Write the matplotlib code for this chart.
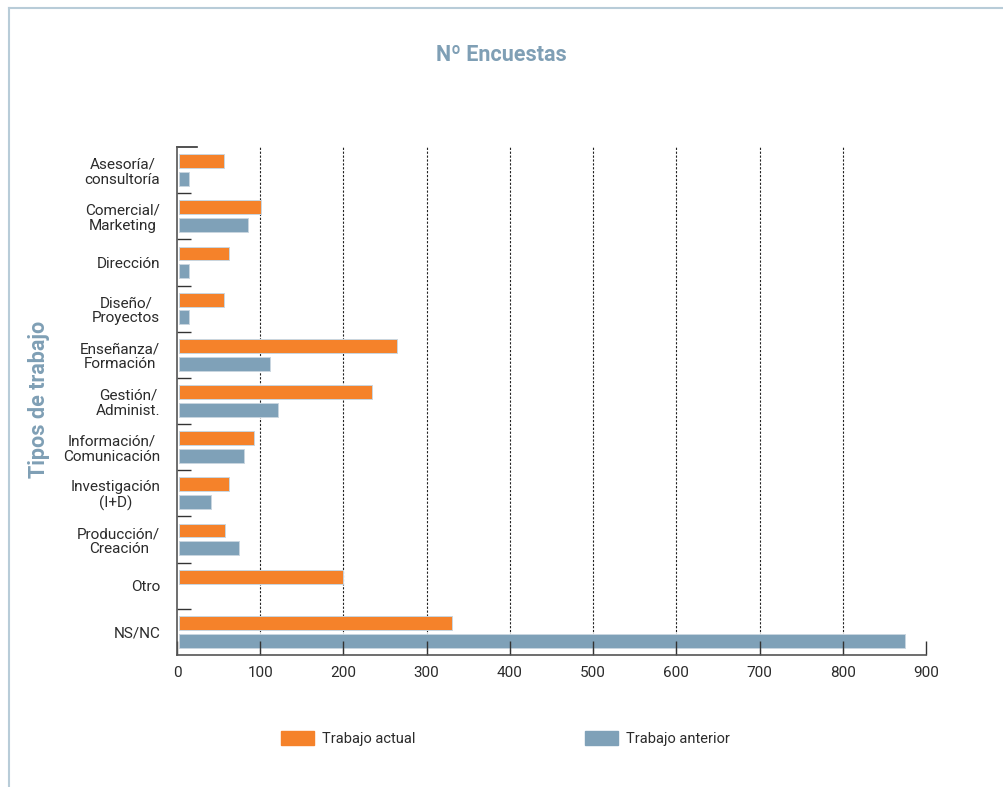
import numpy as np
import matplotlib.pyplot as plt
from matplotlib.patches import Patch
from matplotlib.lines import Line2D

plt.rcParams['font.family'] = ['Roboto', 'DejaVu Sans']

# Datos
categorias = ["Asesoría/\nconsultoría", "Comercial/\nMarketing", "Dirección",
              "Diseño/\nProyectos", "Enseñanza/\nFormación", "Gestión/\nAdminist.",
              "Información/\nComunicación", "Investigación\n(I+D)",
              "Producción/\nCreación", "Otro", "NS/NC"]
trabajo_actual = np.array([54, 99, 61, 55, 262, 232, 91, 61, 56, 197, 329])
trabajo_anterior = np.array([12, 83, 13, 13, 110, 119, 79, 39, 73, 0, 873])
ticks_x = [0, 100, 200, 300, 400, 500, 600, 700, 800, 900]

NARANJA = '#f5822a'
AZUL = '#7fa1b8'
TITULO = '#7f9fb5'
TEXTO = '#2b2b2b'

fig = plt.figure(figsize=(10.04, 7.87), dpi=100)
ax = fig.add_axes([0.1763, 0.1677, 0.746, 0.6455])

y = np.arange(len(categorias))
alto = 0.30
m1 = trabajo_actual > 0
m2 = trabajo_anterior > 0
ax.barh(y[m1] - 0.195, trabajo_actual[m1], height=alto, color=NARANJA,
        edgecolor='#c9d6e0', linewidth=0.7, left=2)
ax.barh(y[m2] + 0.19, trabajo_anterior[m2], height=alto, color=AZUL,
        edgecolor='#c9d6e0', linewidth=0.7, left=2)

ax.set_xlim(0, 900)
ax.set_ylim(len(categorias) - 0.5, -0.5)

# rejilla punteada
for v in ticks_x[1:-1]:
    ax.axvline(v, color='#222222', linestyle=(0, (2, 1.5)), linewidth=0.8, zorder=0)

ax.set_xticks(ticks_x)
ax.tick_params(axis='x', direction='in', length=10, width=1, color='#333333',
               labelsize=11, labelcolor=TEXTO, pad=8)

ax.set_yticks(y)
ax.set_yticklabels(categorias, linespacing=1.1)
for lbl in ax.get_yticklabels():
    lbl.set_multialignment('center')
ax.tick_params(axis='y', length=0, labelsize=11, labelcolor=TEXTO, pad=12)
ax.set_yticks(np.arange(0.5, len(categorias) - 1, 1.0), minor=True)
ax.tick_params(axis='y', which='minor', direction='in', length=10, width=1,
               color='#333333')
ax.add_line(Line2D([0, 24], [-0.5, -0.5], color='#333333', linewidth=1.2,
                   clip_on=False))

for s in ['top', 'right']:
    ax.spines[s].set_visible(False)
for s in ['left', 'bottom']:
    ax.spines[s].set_color('#555555')
    ax.spines[s].set_linewidth(1.2)

# títulos
fig.text(0.499, 0.930, "Nº Encuestas", ha='center', va='center',
         fontsize=15.5, fontweight='bold', color=TITULO)
fig.text(0.039, 0.492, "Tipos de trabajo", ha='center', va='center',
         rotation=90, fontsize=15.5, fontweight='bold', color=TITULO)

# leyenda
fig.legend(handles=[Patch(color=NARANJA, label='Trabajo actual'),
                    Patch(color=AZUL, label='Trabajo anterior')],
           loc='center', bbox_to_anchor=(0.5035, 0.062), ncol=2, frameon=False,
           fontsize=10.5, handlelength=2.26, handleheight=1.1, columnspacing=11.6,
           handletextpad=0.55, labelcolor=TEXTO)

# marco
marco = '#b8ccd8'
fig.add_artist(Line2D([0.009, 0.009], [0, 0.99], color=marco, linewidth=1.5))
fig.add_artist(Line2D([0.009, 1.0], [0.99, 0.99], color=marco, linewidth=1.5))

fig.savefig('out.png', dpi=100, facecolor='white')
